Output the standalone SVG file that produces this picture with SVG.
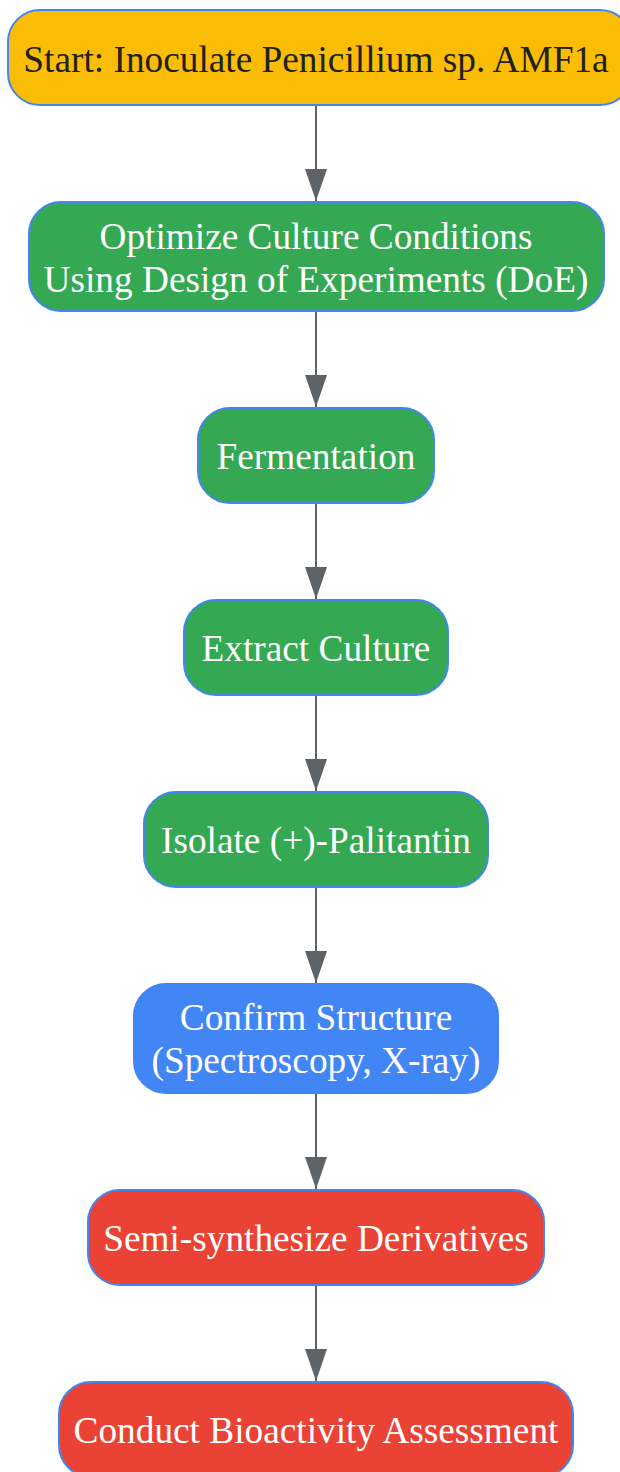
<svg xmlns="http://www.w3.org/2000/svg" width="620" height="1472" viewBox="0 0 620 1472">
<defs>
<marker id="arr" markerWidth="32" markerHeight="22" refX="32" refY="11" orient="auto" markerUnits="userSpaceOnUse" viewBox="0 0 32 22">
<path d="M0,0 L32,11 L0,22 Z" fill="#5f6368"/>
</marker>
</defs>
<style>
.n rect{stroke:#4285F4;stroke-width:2}
.t{font-family:"Liberation Serif","Times New Roman",serif;font-size:37.3px;text-anchor:middle}
.w{fill:#ffffff}
.d{fill:#202124}
.c line{stroke:#5f6368;stroke-width:2;marker-end:url(#arr)}
</style>
<rect width="620" height="1472" fill="#ffffff"/>
<g class="c" id="connectors">
<line x1="316" y1="105" x2="316" y2="201"/>
<line x1="316" y1="311" x2="316" y2="407"/>
<line x1="316" y1="503" x2="316" y2="599"/>
<line x1="316" y1="695" x2="316" y2="791"/>
<line x1="316" y1="887" x2="316" y2="983"/>
<line x1="316" y1="1093" x2="316" y2="1189"/>
<line x1="316" y1="1285" x2="316" y2="1381"/>
</g>
<g class="n" id="n1"><rect x="8" y="10" width="624" height="95" rx="32" fill="#FBBC05"/><text class="t d" x="316" y="72">Start: Inoculate Penicillium sp. AMF1a</text></g>
<g class="n" id="n2"><rect x="29" y="202" width="575" height="109" rx="32" fill="#34A853"/><text class="t w" x="316" y="249">Optimize Culture Conditions</text><text class="t w" x="316" y="292">Using Design of Experiments (DoE)</text></g>
<g class="n" id="n3"><rect x="198" y="408" width="236" height="95" rx="32" fill="#34A853"/><text class="t w" x="316" y="469">Fermentation</text></g>
<g class="n" id="n4"><rect x="184" y="600" width="264" height="95" rx="32" fill="#34A853"/><text class="t w" x="316" y="661">Extract Culture</text></g>
<g class="n" id="n5"><rect x="144" y="792" width="344" height="95" rx="32" fill="#34A853"/><text class="t w" x="316" y="853">Isolate (+)-Palitantin</text></g>
<g class="n" id="n6"><rect x="134" y="984" width="364" height="109" rx="32" fill="#4285F4"/><text class="t w" x="316" y="1030">Confirm Structure</text><text class="t w" x="316" y="1073">(Spectroscopy, X-ray)</text></g>
<g class="n" id="n7"><rect x="88" y="1190" width="456" height="95" rx="32" fill="#EA4335"/><text class="t w" x="316" y="1251">Semi-synthesize Derivatives</text></g>
<g class="n" id="n8"><rect x="59" y="1382" width="514" height="95" rx="32" fill="#EA4335"/><text class="t w" x="316" y="1443">Conduct Bioactivity Assessment</text></g>
</svg>
